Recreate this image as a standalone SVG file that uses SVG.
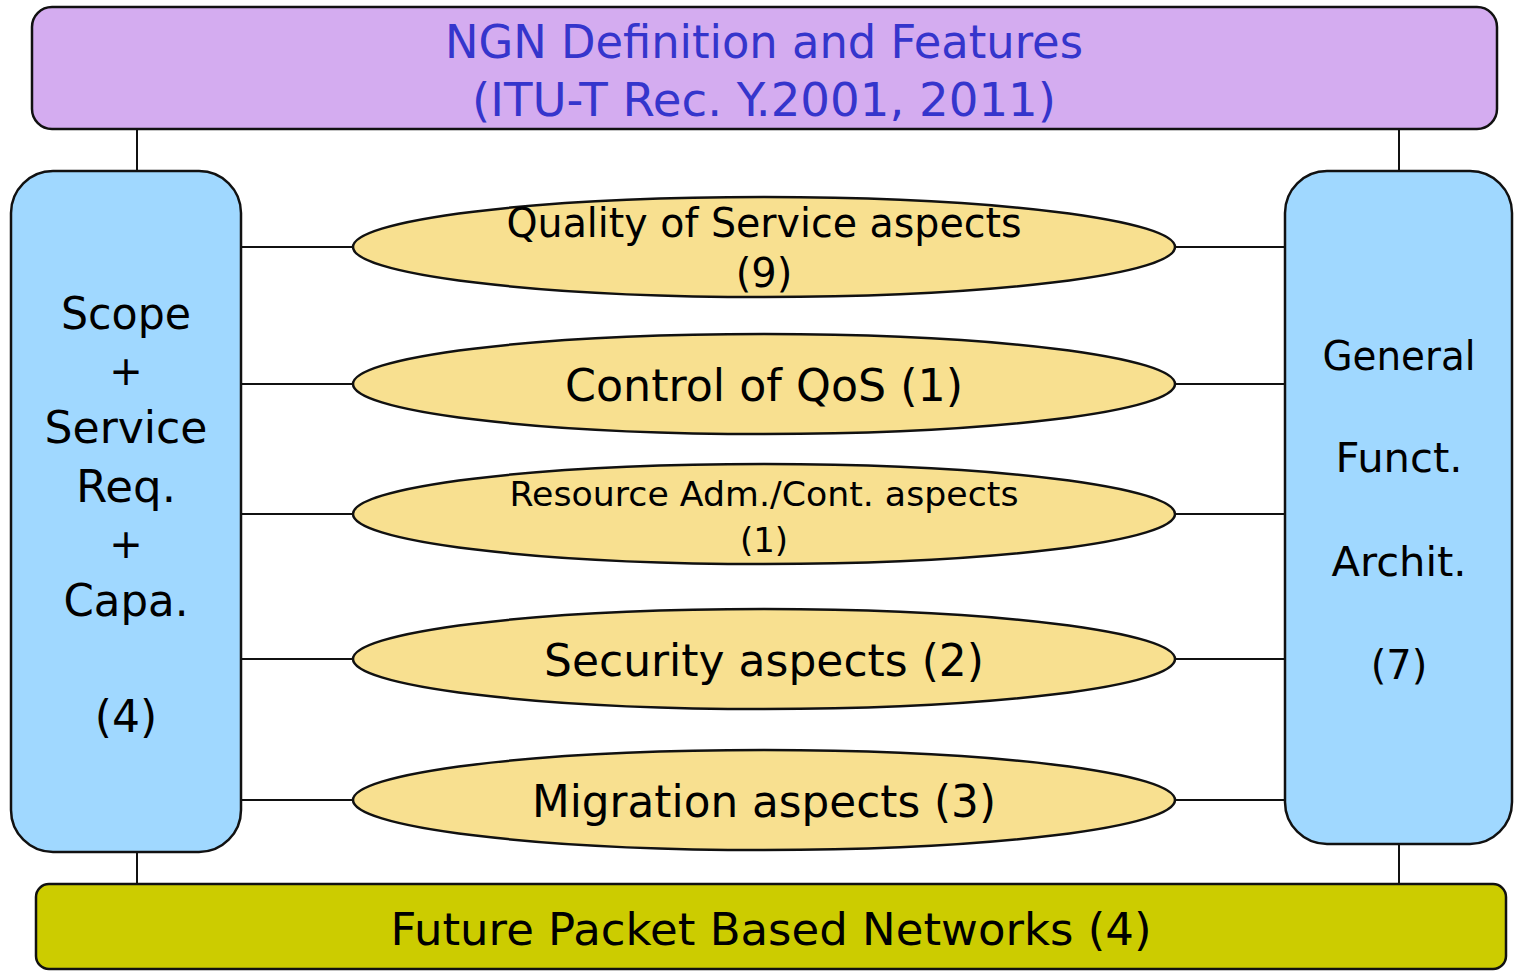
<svg xmlns="http://www.w3.org/2000/svg" width="1514" height="971" viewBox="0 0 1514 971">
<style>
.box{stroke:#111;stroke-width:2.5}
.ell{fill:#F8E090;stroke:#111;stroke-width:2.5}
.con{stroke:#111;stroke-width:2;fill:none}
text{font-family:"DejaVu Sans","Liberation Sans",sans-serif;text-anchor:middle;fill:#000}
.title{fill:#3535CC;font-size:46px}
</style>
<rect width="1514" height="971" fill="#fff"/>
<g id="connectors">
<line class="con" x1="137" y1="129" x2="137" y2="171"/>
<line class="con" x1="1399" y1="129" x2="1399" y2="171"/>
<line class="con" x1="137" y1="851" x2="137" y2="884"/>
<line class="con" x1="1399" y1="844" x2="1399" y2="884"/>
<line class="con" x1="241" y1="247" x2="353" y2="247"/>
<line class="con" x1="1175" y1="247" x2="1285" y2="247"/>
<line class="con" x1="241" y1="384" x2="353" y2="384"/>
<line class="con" x1="1175" y1="384" x2="1285" y2="384"/>
<line class="con" x1="241" y1="514" x2="353" y2="514"/>
<line class="con" x1="1175" y1="514" x2="1285" y2="514"/>
<line class="con" x1="241" y1="659" x2="353" y2="659"/>
<line class="con" x1="1175" y1="659" x2="1285" y2="659"/>
<line class="con" x1="241" y1="800" x2="353" y2="800"/>
<line class="con" x1="1175" y1="800" x2="1285" y2="800"/>
</g>
<g id="ngn">
<rect class="box" x="32" y="7" width="1465" height="122" rx="20" fill="#D4ACF0"/>
<text class="title" x="764" y="58" textLength="638" lengthAdjust="spacingAndGlyphs">NGN Definition and Features</text>
<text class="title" x="764" y="116" textLength="584" lengthAdjust="spacingAndGlyphs">(ITU-T Rec. Y.2001, 2011)</text>
</g>
<g id="scope">
<rect class="box" x="11" y="171" width="230" height="681" rx="42" fill="#A0D8FF"/>
<text x="126" y="329" font-size="44" textLength="130" lengthAdjust="spacingAndGlyphs">Scope</text>
<text x="126" y="385" font-size="40">+</text>
<text x="126" y="443" font-size="44" textLength="163" lengthAdjust="spacingAndGlyphs">Service</text>
<text x="126" y="502" font-size="44" textLength="100" lengthAdjust="spacingAndGlyphs">Req.</text>
<text x="126" y="558" font-size="40">+</text>
<text x="126" y="616" font-size="44" textLength="125" lengthAdjust="spacingAndGlyphs">Capa.</text>
<text x="126" y="732" font-size="44">(4)</text>
</g>
<g id="arch">
<rect class="box" x="1285" y="171" width="227" height="673" rx="42" fill="#A0D8FF"/>
<text x="1399" y="370" font-size="40" textLength="153" lengthAdjust="spacingAndGlyphs">General</text>
<text x="1399" y="472" font-size="40" textLength="127" lengthAdjust="spacingAndGlyphs">Funct.</text>
<text x="1399" y="576" font-size="40" textLength="135" lengthAdjust="spacingAndGlyphs">Archit.</text>
<text x="1399" y="679" font-size="40">(7)</text>
</g>
<g id="qos">
<ellipse class="ell" cx="764" cy="247" rx="411" ry="50"/>
<text x="764" y="237" font-size="40" textLength="515" lengthAdjust="spacingAndGlyphs">Quality of Service aspects</text>
<text x="764" y="287" font-size="40">(9)</text>
</g>
<g id="control">
<ellipse class="ell" cx="764" cy="384" rx="411" ry="50"/>
<text x="764" y="401" font-size="44" textLength="398" lengthAdjust="spacingAndGlyphs">Control of QoS (1)</text>
</g>
<g id="resource">
<ellipse class="ell" cx="764" cy="514" rx="411" ry="50"/>
<text x="764" y="506" font-size="34" textLength="509" lengthAdjust="spacingAndGlyphs">Resource Adm./Cont. aspects</text>
<text x="764" y="552" font-size="34">(1)</text>
</g>
<g id="security">
<ellipse class="ell" cx="764" cy="659" rx="411" ry="50"/>
<text x="764" y="676" font-size="44" textLength="440" lengthAdjust="spacingAndGlyphs">Security aspects (2)</text>
</g>
<g id="migration">
<ellipse class="ell" cx="764" cy="800" rx="411" ry="50"/>
<text x="764" y="817" font-size="44" textLength="464" lengthAdjust="spacingAndGlyphs">Migration aspects (3)</text>
</g>
<g id="future">
<rect class="box" x="36" y="884" width="1470" height="85" rx="13" fill="#CCCC00"/>
<text x="771" y="945" font-size="44" textLength="761" lengthAdjust="spacingAndGlyphs">Future Packet Based Networks (4)</text>
</g>
</svg>
